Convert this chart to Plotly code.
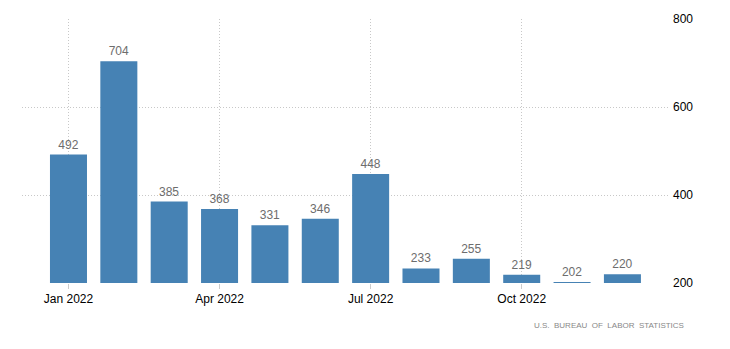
import plotly.graph_objects as go

months = ["Jan 2022", "Feb 2022", "Mar 2022", "Apr 2022", "May 2022", "Jun 2022",
          "Jul 2022", "Aug 2022", "Sep 2022", "Oct 2022", "Nov 2022", "Dec 2022"]
values = [492, 704, 385, 368, 331, 346, 448, 233, 255, 219, 202, 220]
tick_idx = [0, 3, 6, 9]
tick_labels = ["Jan 2022", "Apr 2022", "Jul 2022", "Oct 2022"]
y_ticks = [200, 400, 600, 800]
source = "U.S.\u00a0\u00a0BUREAU\u00a0\u00a0OF\u00a0\u00a0LABOR\u00a0\u00a0STATISTICS"

x = list(range(len(months)))
FONT = "Liberation Sans"

fig = go.Figure(go.Bar(
    x=x, y=values, width=0.735,
    marker=dict(color="#4682b4", line=dict(width=0)),
    text=[str(v) for v in values], textposition="outside",
    textfont=dict(family=FONT, size=12, color="#6d6d6d"),
    cliponaxis=False, hovertext=months,
))

fig.update_layout(
    width=730, height=349,
    margin=dict(l=22, r=62, t=19, b=66),
    paper_bgcolor="white", plot_bgcolor="white",
    showlegend=False,
    font=dict(family=FONT, size=12, color="#000"),
    xaxis=dict(range=[-0.923, 11.905], tickvals=tick_idx, ticktext=tick_labels,
               showgrid=True, gridcolor="#c8c8c8", griddash="1px,2px", gridwidth=1,
               ticks="outside", ticklen=5, tickcolor="#cccccc",
               showline=False, zeroline=False,
               tickfont=dict(family=FONT, size=12, color="#000")),
    yaxis=dict(range=[200, 800], tickvals=y_ticks, side="right",
               showgrid=True, gridcolor="#c8c8c8", griddash="1px,2px", gridwidth=1,
               zeroline=False, showline=False, ticks="",
               ticklabelstandoff=4,
               tickfont=dict(family=FONT, size=12, color="#000")),
    annotations=[dict(text=source, xref="paper", yref="paper", x=(686-22)/646, y=-(325-283)/264,
                      xanchor="right", yanchor="middle", showarrow=False,
                      font=dict(family=FONT, size=8, color="#888"))],
)

fig.write_html("out.html")
